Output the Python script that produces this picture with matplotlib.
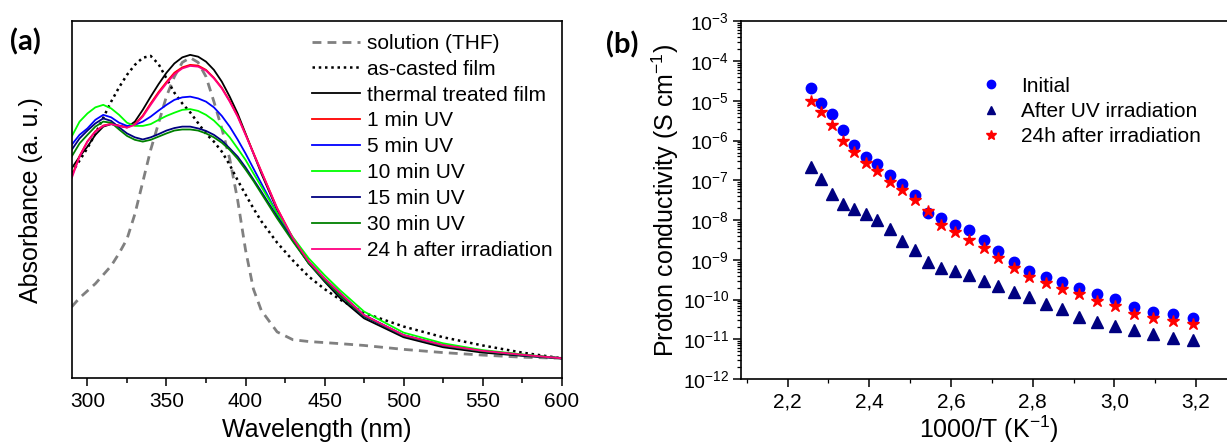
import matplotlib
matplotlib.use("Agg")
import matplotlib.pyplot as plt
from matplotlib.ticker import MultipleLocator, LogLocator, NullFormatter, FixedLocator, FixedFormatter

plt.rcParams['font.family'] = ['Liberation Sans', 'DejaVu Sans']
plt.rcParams['mathtext.fontset'] = 'custom'
plt.rcParams['mathtext.rm'] = 'Liberation Sans'
plt.rcParams['mathtext.it'] = 'Liberation Sans'

# ---- panel (a): UV-vis absorbance (normalised a.u.) ----
wavelength = [290, 295, 300, 305, 310, 315, 320, 325, 330, 335, 340, 345, 350, 355,
              360, 365, 370, 375, 380, 385, 390, 395, 400, 405, 410, 420, 430, 440,
              450, 460, 475, 500, 525, 550, 575, 600]

solution_thf = [0.200, 0.225, 0.245, 0.265, 0.290, 0.315, 0.350, 0.390, 0.460, 0.550, 0.640, 0.715,
                0.790, 0.845, 0.885, 0.898, 0.885, 0.845, 0.775, 0.700, 0.615, 0.500, 0.360, 0.250,
                0.190, 0.130, 0.108, 0.103, 0.100, 0.097, 0.092, 0.081, 0.072, 0.065, 0.059, 0.056]
as_casted = [0.575, 0.610, 0.645, 0.685, 0.730, 0.775, 0.815, 0.850, 0.878, 0.898, 0.903, 0.880,
             0.840, 0.800, 0.770, 0.745, 0.715, 0.685, 0.663, 0.635, 0.598, 0.555, 0.515, 0.476,
             0.440, 0.380, 0.330, 0.285, 0.250, 0.220, 0.183, 0.145, 0.115, 0.092, 0.072, 0.056]
thermal = [0.588, 0.621, 0.649, 0.682, 0.705, 0.712, 0.707, 0.703, 0.719, 0.752, 0.789, 0.824,
           0.856, 0.882, 0.899, 0.906, 0.901, 0.887, 0.864, 0.831, 0.789, 0.742, 0.686, 0.630,
           0.574, 0.472, 0.387, 0.322, 0.271, 0.224, 0.168, 0.115, 0.087, 0.072, 0.063, 0.056]
uv_1min = [0.565, 0.623, 0.664, 0.692, 0.708, 0.713, 0.708, 0.703, 0.712, 0.736, 0.770, 0.802,
           0.830, 0.856, 0.871, 0.878, 0.876, 0.864, 0.842, 0.814, 0.777, 0.735, 0.684, 0.632,
           0.580, 0.477, 0.392, 0.327, 0.279, 0.237, 0.176, 0.120, 0.092, 0.077, 0.066, 0.056]
uv_5min = [0.654, 0.682, 0.700, 0.724, 0.738, 0.731, 0.716, 0.707, 0.710, 0.719, 0.733, 0.750,
           0.766, 0.780, 0.787, 0.789, 0.784, 0.775, 0.759, 0.735, 0.705, 0.669, 0.630, 0.588,
           0.546, 0.462, 0.387, 0.327, 0.280, 0.238, 0.177, 0.121, 0.093, 0.077, 0.066, 0.056]
uv_10min = [0.677, 0.719, 0.742, 0.759, 0.766, 0.756, 0.738, 0.716, 0.707, 0.707, 0.712, 0.724,
            0.735, 0.744, 0.752, 0.754, 0.749, 0.738, 0.722, 0.700, 0.675, 0.644, 0.612, 0.574,
            0.537, 0.462, 0.395, 0.336, 0.289, 0.246, 0.187, 0.128, 0.098, 0.079, 0.067, 0.056]
uv_15min = [0.640, 0.672, 0.694, 0.714, 0.728, 0.721, 0.703, 0.686, 0.675, 0.669, 0.675, 0.684,
            0.694, 0.701, 0.705, 0.705, 0.700, 0.693, 0.682, 0.666, 0.644, 0.621, 0.591, 0.557,
            0.523, 0.453, 0.386, 0.322, 0.274, 0.231, 0.173, 0.119, 0.091, 0.076, 0.064, 0.056]
uv_30min = [0.621, 0.658, 0.682, 0.705, 0.719, 0.716, 0.697, 0.679, 0.668, 0.663, 0.668, 0.677,
            0.686, 0.694, 0.697, 0.697, 0.694, 0.686, 0.675, 0.660, 0.640, 0.615, 0.585, 0.553,
            0.518, 0.448, 0.383, 0.322, 0.275, 0.232, 0.175, 0.120, 0.092, 0.076, 0.065, 0.056]
after_24h = [0.560, 0.621, 0.663, 0.691, 0.707, 0.712, 0.707, 0.702, 0.710, 0.733, 0.766, 0.798,
             0.826, 0.852, 0.868, 0.875, 0.873, 0.862, 0.840, 0.812, 0.775, 0.733, 0.682, 0.630,
             0.579, 0.476, 0.392, 0.327, 0.280, 0.238, 0.177, 0.121, 0.093, 0.077, 0.066, 0.056]

# ---- panel (b): proton conductivity vs 1000/T ----
inv_t = [2.257, 2.282, 2.309, 2.336, 2.363, 2.392, 2.420, 2.450, 2.481, 2.512, 2.544, 2.576,
         2.610, 2.644, 2.680, 2.716, 2.754, 2.792, 2.832, 2.872, 2.914, 2.957, 3.002, 3.047,
         3.095, 3.143, 3.193]
cond_initial = [2.06e-5, 8.9e-6, 4.6e-6, 1.8e-6, 7.6e-7, 3.9e-7, 2.6e-7, 1.36e-7, 8.0e-8, 4.3e-8,
                1.5e-8, 1.12e-8, 7.6e-9, 5.6e-9, 3.2e-9, 1.63e-9, 8.9e-10, 5.3e-10, 3.7e-10,
                2.7e-10, 2.0e-10, 1.4e-10, 1.05e-10, 6.3e-11, 4.9e-11, 4.3e-11, 3.5e-11]
cond_uv = [2.2e-7, 1.06e-7, 4.5e-8, 2.5e-8, 1.86e-8, 1.42e-8, 1.0e-8, 5.8e-9, 3.0e-9, 1.76e-9,
           8.9e-10, 6.1e-10, 5.1e-10, 4.1e-10, 3.0e-10, 2.2e-10, 1.57e-10, 1.13e-10, 7.7e-11,
           5.7e-11, 3.7e-11, 2.7e-11, 2.15e-11, 1.7e-11, 1.35e-11, 1.05e-11, 9.5e-12]
cond_24h = [1.0e-5, 5.1e-6, 2.5e-6, 1.0e-6, 5.2e-7, 2.7e-7, 1.74e-7, 9.2e-8, 5.7e-8, 3.2e-8,
            1.7e-8, 7.5e-9, 4.9e-9, 3.1e-9, 2.0e-9, 1.12e-9, 6.1e-10, 3.6e-10, 2.55e-10,
            1.8e-10, 1.37e-10, 9.3e-11, 7.0e-11, 4.2e-11, 3.4e-11, 2.9e-11, 2.4e-11]

xticks_b = [2.2, 2.4, 2.6, 2.8, 3.0, 3.2]
xtick_labels_b = ["2,2", "2,4", "2,6", "2,8", "3,0", "3,2"]

fig = plt.figure(figsize=(12.27, 4.44), dpi=100)
ax1 = fig.add_axes([0.0584, 0.148, 0.3993, 0.804])
ax2 = fig.add_axes([0.6043, 0.1464, 0.4038, 0.8056])

# panel (a)
ax1.plot(wavelength, solution_thf, color="#808080", lw=2.0, ls=(0, (3.2, 2.2)), label="solution (THF)")
ax1.plot(wavelength, as_casted, color="black", lw=1.8, ls=(0, (1, 1.5)), label="as-casted film")
ax1.plot(wavelength, thermal, color="black", lw=1.3, label="thermal treated film")
ax1.plot(wavelength, uv_1min, color="#FF0000", lw=1.3, label="1 min UV")
ax1.plot(wavelength, uv_5min, color="#0000FF", lw=1.3, label="5 min UV")
ax1.plot(wavelength, uv_10min, color="#00FF00", lw=1.3, label="10 min UV")
ax1.plot(wavelength, uv_15min, color="#000080", lw=1.3, label="15 min UV")
ax1.plot(wavelength, uv_30min, color="#008000", lw=1.3, label="30 min UV")
ax1.plot(wavelength, after_24h, color="#FF0080", lw=1.3, label="24 h after irradiation")

ax1.set_xlim(290, 600)
ax1.set_ylim(0, 1)
ax1.xaxis.set_major_locator(MultipleLocator(50))
ax1.xaxis.set_minor_locator(MultipleLocator(25))
ax1.set_yticks([])
ax1.tick_params(axis="x", which="major", direction="out", length=6, width=1.1, labelsize=15, pad=4)
ax1.tick_params(axis="x", which="minor", direction="out", length=3.5, width=1.1)
for s in ax1.spines.values():
    s.set_linewidth(1.2)
ax1.set_xlabel("Wavelength (nm)", fontsize=18, labelpad=5)
ax1.set_ylabel("Absorbance (a. u.)", fontsize=18)
ax1.yaxis.set_label_coords(-0.058, 0.5)
ax1.legend(loc="upper left", bbox_to_anchor=(0.49, 0.965), frameon=False, fontsize=15,
           handlelength=2.3, handletextpad=0.35, labelspacing=0.33, borderpad=0, borderaxespad=0)

# panel (b)
ax2.semilogy(inv_t, cond_initial, ls="none", marker="o", ms=7.5, color="#0000FF", label="Initial")
ax2.semilogy(inv_t, cond_uv, ls="none", marker="^", ms=8, color="#000080", label="After UV irradiation")
ax2.semilogy(inv_t, cond_24h, ls="none", marker="*", ms=9, color="#FF0000", label="24h after irradiation")

ax2.set_xlim(2.087, 3.3)
ax2.set_ylim(1e-12, 1e-3)
ax2.xaxis.set_major_locator(FixedLocator(xticks_b))
ax2.xaxis.set_major_formatter(FixedFormatter(xtick_labels_b))
ax2.xaxis.set_minor_locator(MultipleLocator(0.1))
ax2.yaxis.set_major_locator(LogLocator(base=10, numticks=20))
ax2.yaxis.set_minor_locator(LogLocator(base=10, subs=range(2, 10), numticks=20))
ax2.yaxis.set_minor_formatter(NullFormatter())
ax2.tick_params(axis="x", which="major", direction="out", length=6, width=1.1, labelsize=15, pad=4)
ax2.tick_params(axis="y", which="major", direction="out", length=6, width=1.1, labelsize=14, pad=3)
ax2.tick_params(axis="both", which="minor", direction="out", length=3, width=0.9)
for s in ax2.spines.values():
    s.set_linewidth(1.2)
ax2.set_xlabel("1000/T (K$^{-1}$)", fontsize=18, labelpad=1)
ax2.set_ylabel("Proton conductivity (S cm$^{-1}$)", fontsize=18)
ax2.yaxis.set_label_coords(-0.122, 0.5)
ax2.legend(loc="upper left", bbox_to_anchor=(0.4826, 0.845), frameon=False, fontsize=15,
           handlelength=1.0, handletextpad=0.95, labelspacing=0.3, borderpad=0, borderaxespad=0,
           markerscale=0.8)

fig.text(0.008, 0.905, "(a)", fontsize=21, fontweight="bold", family=["Lato", "DejaVu Sans"], va="center")
fig.text(0.494, 0.90, "(b)", fontsize=21, fontweight="bold", family=["Lato", "DejaVu Sans"], va="center")

fig.savefig("out.png", dpi=100)
